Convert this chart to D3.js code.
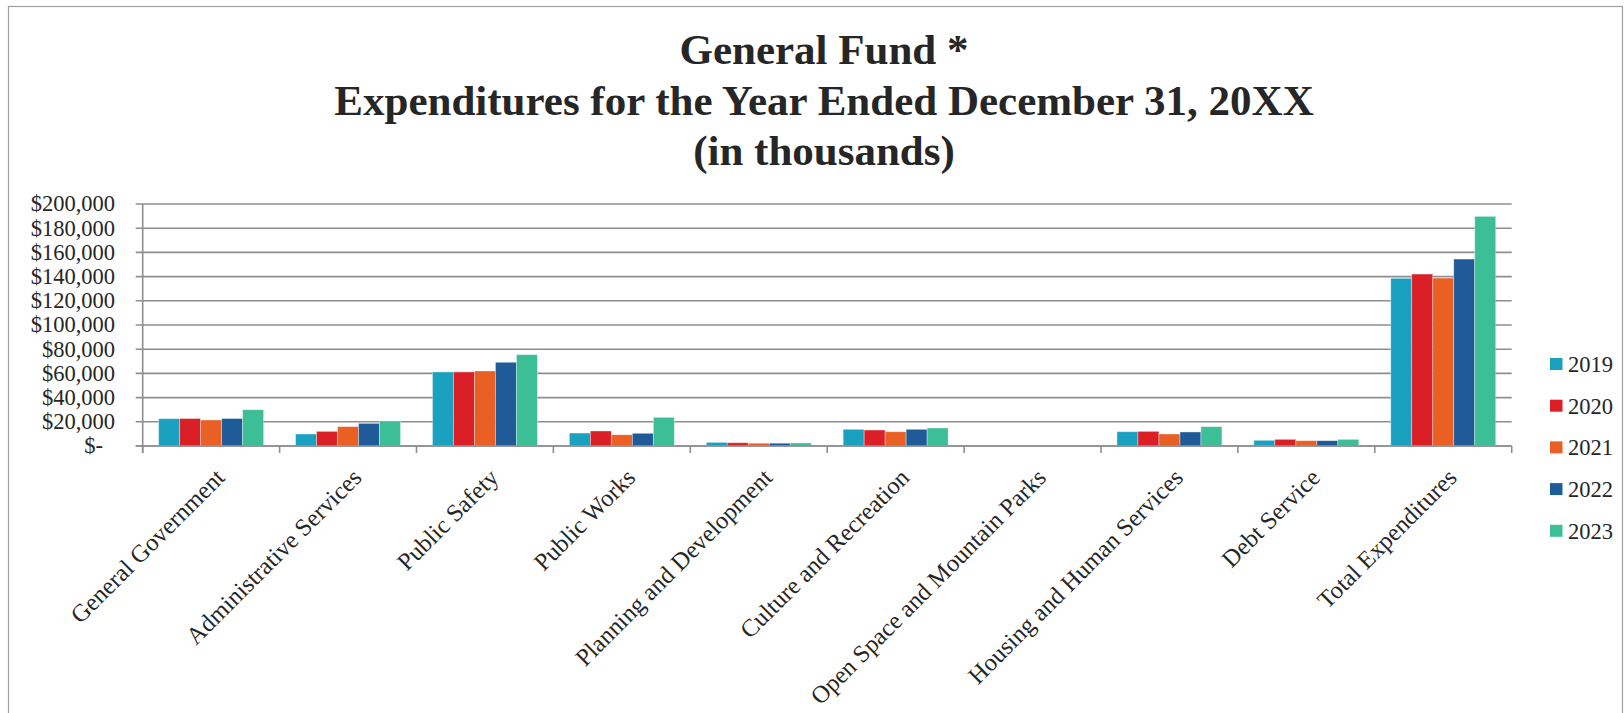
<!DOCTYPE html>
<html>
<head>
<meta charset="utf-8">
<script src="https://cdn.jsdelivr.net/npm/d3@7"></script>
<style>
  body { margin: 0; background: #fff; }
  svg { display: block; font-family: "Liberation Serif", "Times New Roman", serif; }
</style>
</head>
<body>
<svg id="chart" width="1624" height="713"></svg>
<script>
// data (values in thousands of dollars)
const categories = [
  "General Government",
  "Administrative Services",
  "Public Safety",
  "Public Works",
  "Planning and Development",
  "Culture and Recreation",
  "Open Space and Mountain Parks",
  "Housing and Human Services",
  "Debt Service",
  "Total Expenditures"
];
const years = ["2019", "2020", "2021", "2022", "2023"];
const values2019 = [22600, 9900, 61200, 10700, 3000, 13800, 0, 11800, 4700, 138600];
const values2020 = [22700, 12100, 61200, 12400, 2700, 13200, 0, 12100, 5500, 142100];
const values2021 = [21500, 16000, 62000, 9300, 2300, 11800, 0, 9900, 4400, 138800];
const values2022 = [22700, 18700, 69200, 10500, 2300, 13800, 0, 11600, 4400, 154500];
const values2023 = [30000, 20700, 75500, 23700, 2500, 14900, 0, 16000, 5500, 189800];
const yTicks = [0, 20000, 40000, 60000, 80000, 100000, 120000, 140000, 160000, 180000, 200000];
const colors = ["#1aa1bf", "#da1f26", "#ea5f24", "#1f5b99", "#3cbf96"];

const series = [values2019, values2020, values2021, values2022, values2023];

const svg = d3.select("#chart");
const margin = { top: 204, left: 142.7, right: 1511.7, bottom: 446 };
const textColor = "#262626";
const gridColor = "#8e8e92";

// outer frame
svg.append("rect")
  .attr("x", 8.5).attr("y", 6.5)
  .attr("width", 1614).attr("height", 740)
  .attr("fill", "none")
  .attr("stroke", "#a0a0a0")
  .attr("stroke-width", 1.2);

// title
const title = svg.append("text")
  .attr("text-anchor", "middle")
  .attr("fill", textColor)
  .style("font-size", "43px")
  .style("font-weight", "bold");
["General Fund *", "Expenditures for the Year Ended December 31, 20XX", "(in thousands)"]
  .forEach((t, i) => {
    title.append("tspan").attr("x", 824).attr("y", 64 + i * 50.5).text(t);
  });

const x0 = d3.scaleBand().domain(categories).range([margin.left, margin.right]);
const x1 = d3.scaleBand().domain(years).range([0, x0.bandwidth()]).paddingOuter(0.76);
const y = d3.scaleLinear().domain([0, 200000]).range([margin.bottom, margin.top]);

// gridlines + y labels
const yAxis = svg.append("g");
yAxis.selectAll("line")
  .data(yTicks)
  .enter()
  .append("line")
  .attr("x1", margin.left - 7)
  .attr("x2", margin.right)
  .attr("y1", d => y(d))
  .attr("y2", d => y(d))
  .attr("stroke", gridColor)
  .attr("stroke-width", 1.6);

yAxis.selectAll("text")
  .data(yTicks)
  .enter()
  .append("text")
  .attr("x", d => d === 0 ? 103 : 115)
  .attr("y", d => y(d))
  .attr("dy", "0.33em")
  .attr("text-anchor", "end")
  .attr("fill", textColor)
  .style("font-size", "22.5px")
  .text(d => d === 0 ? "$-" : "$" + d3.format(",")(d));

// bars
const groups = svg.append("g")
  .selectAll("g")
  .data(categories)
  .enter()
  .append("g")
  .attr("transform", d => "translate(" + x0(d) + ",0)");

groups.selectAll("rect")
  .data((c, i) => years.map((yr, j) => ({ year: yr, idx: j, value: series[j][i] })))
  .enter()
  .append("rect")
  .filter(d => d.value > 0)
  .attr("x", d => x1(d.year))
  .attr("width", x1.bandwidth())
  .attr("y", d => y(d.value))
  .attr("height", d => y(0) - y(d.value))
  .attr("fill", d => colors[d.idx])
  .attr("stroke", "#ffffff")
  .attr("stroke-opacity", 0.45)
  .attr("stroke-width", 0.8);

// axes lines
svg.append("line")
  .attr("x1", margin.left).attr("x2", margin.left)
  .attr("y1", margin.top).attr("y2", margin.bottom + 7)
  .attr("stroke", gridColor).attr("stroke-width", 1.6);

svg.append("line")
  .attr("x1", margin.left - 7).attr("x2", margin.right)
  .attr("y1", margin.bottom).attr("y2", margin.bottom)
  .attr("stroke", gridColor).attr("stroke-width", 1.6);

// category ticks at band boundaries
const boundaries = categories.map(c => x0(c)).concat([margin.right]);
svg.append("g")
  .selectAll("line")
  .data(boundaries)
  .enter()
  .append("line")
  .attr("x1", d => d).attr("x2", d => d)
  .attr("y1", margin.bottom).attr("y2", margin.bottom + 7)
  .attr("stroke", gridColor).attr("stroke-width", 1.6);

// category labels, rotated
svg.append("g")
  .selectAll("text")
  .data(categories)
  .enter()
  .append("text")
  .attr("transform", d => "translate(" + (x0(d) + x0.bandwidth() / 2 + 15) + "," + 479 + ") rotate(-45)")
  .attr("text-anchor", "end")
  .attr("fill", textColor)
  .style("font-size", "24.5px")
  .text(d => d);

// legend
const legend = svg.append("g")
  .selectAll("g")
  .data(years)
  .enter()
  .append("g")
  .attr("transform", (d, i) => "translate(1550," + (358 + i * 41.7) + ")");

legend.append("rect")
  .attr("width", 12.5)
  .attr("height", 12)
  .attr("fill", (d, i) => colors[i]);

legend.append("text")
  .attr("x", 18)
  .attr("y", 6)
  .attr("dy", "0.35em")
  .attr("fill", textColor)
  .style("font-size", "22.5px")
  .text(d => d);
</script>
</body>
</html>
